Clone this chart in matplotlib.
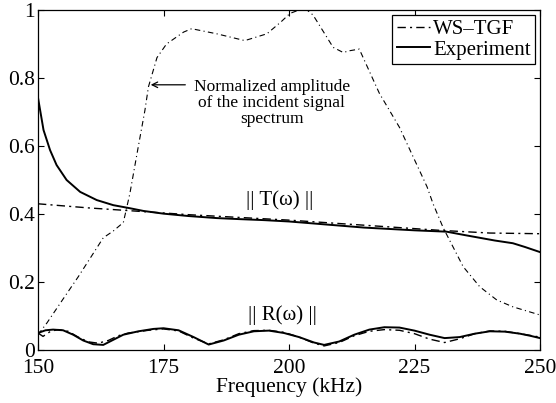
import matplotlib
matplotlib.use('Agg')
import matplotlib.pyplot as plt

plt.rcParams['font.family'] = ['Liberation Serif', 'DejaVu Serif']

# normalized amplitude of the incident signal spectrum
spec_f = [150, 151.8, 155, 158, 161.7, 163, 165, 167, 168.3, 170, 171.3, 172, 173.7,
          175.6, 179, 180.6, 185.6, 191.2, 195.6, 198.4, 200.2, 202, 203.6, 204.8,
          208.8, 210.8, 212, 214, 218, 222, 227.5, 228.7, 230.7, 234.7, 238, 241.4,
          244.6, 250]
spec_v = [0.045, 0.08, 0.15, 0.215, 0.30, 0.33, 0.35, 0.375, 0.46, 0.6, 0.705, 0.774, 0.86,
          0.90, 0.935, 0.945, 0.93, 0.91, 0.93, 0.965, 0.99, 1.0, 1.0, 0.985,
          0.89, 0.875, 0.88, 0.885, 0.755, 0.655, 0.48, 0.43, 0.36, 0.245, 0.186, 0.147,
          0.127, 0.103]

# |T| experiment
t_exp_f = [150, 151.1, 152.4, 153.7, 155.7, 158.4, 161.7, 165, 168.3, 171, 175, 180, 185.6,
           190, 195, 200, 205, 210, 215, 220, 225, 231.4, 235, 238, 241, 244.6, 247, 250]
t_exp_v = [0.742, 0.647, 0.588, 0.544, 0.50, 0.465, 0.441, 0.426, 0.417, 0.409, 0.401,
           0.394, 0.388, 0.385, 0.382, 0.378, 0.372, 0.366, 0.36, 0.356, 0.352, 0.348,
           0.338, 0.33, 0.322, 0.314, 0.303, 0.288]

# |T| WS-TGF
t_ws_f = [150, 160, 170, 180, 190, 200, 210, 220, 230, 240, 250]
t_ws_v = [0.43, 0.418, 0.408, 0.398, 0.39, 0.382, 0.372, 0.362, 0.352, 0.344, 0.342]

# |R| experiment
r_exp_f = [150, 151.5, 153, 155, 157, 159, 161, 163, 165, 167, 170, 173, 175, 178, 181, 184,
           187, 190, 193, 196, 199, 202, 205, 207, 210, 213, 216, 219, 222, 225, 228, 231,
           234, 237, 240, 243, 246, 248, 250]
r_exp_v = [0.05, 0.058, 0.06, 0.058, 0.045, 0.028, 0.017, 0.015, 0.03, 0.045, 0.055, 0.062,
           0.064, 0.058, 0.038, 0.016, 0.028, 0.045, 0.055, 0.057, 0.05, 0.038, 0.022, 0.015,
           0.025, 0.045, 0.06, 0.067, 0.066, 0.057, 0.045, 0.035, 0.038, 0.048, 0.055,
           0.054, 0.048, 0.042, 0.035]

# |R| WS-TGF
r_ws_f = [150, 151, 152.5, 154, 156, 158, 160, 162, 164, 166, 168, 172, 175, 178, 181, 184,
          187, 190, 193, 196, 199, 202, 205, 207, 210, 213, 216, 219, 222, 225, 228, 231,
          234, 237, 240, 243, 246, 250]
r_ws_v = [0.05, 0.04, 0.055, 0.06, 0.055, 0.038, 0.024, 0.02, 0.028, 0.042, 0.05, 0.058,
          0.062, 0.056, 0.035, 0.018, 0.03, 0.048, 0.057, 0.058, 0.052, 0.038, 0.02, 0.012,
          0.022, 0.042, 0.055, 0.06, 0.058, 0.048, 0.032, 0.022, 0.033, 0.048, 0.056,
          0.055, 0.048, 0.038]

x_ticks = [150, 175, 200, 225, 250]
y_ticks = [0, 0.2, 0.4, 0.6, 0.8, 1]
y_tick_labels = ['0', '0.2', '0.4', '0.6', '0.8', '1']

fig = plt.figure(figsize=(5.56, 4.03), dpi=100)
ax = fig.add_axes([38/556, 53/403, 502/556, 340/403])

ax.plot(spec_f, spec_v, color='black', lw=0.8, dashes=(5, 3, 1, 3))
ax.plot(t_ws_f, t_ws_v, color='black', lw=1.0, dashes=(6, 3, 1.5, 3), label='WS\u2013TGF')
ax.plot(t_exp_f, t_exp_v, color='black', lw=1.4, label='Experiment')
ax.plot(r_ws_f, r_ws_v, color='black', lw=1.0, dashes=(6, 3, 1.5, 3))
ax.plot(r_exp_f, r_exp_v, color='black', lw=1.4)

ax.set_xlim(150, 250)
ax.set_ylim(0, 1)
ax.set_xticks(x_ticks)
ax.set_yticks(y_ticks)
ax.set_yticklabels(y_tick_labels)
ax.tick_params(direction='in', top=True, right=True, labelsize=15.5, length=4, pad=2)
ax.tick_params(axis='x', pad=6.5)
for s in ax.spines.values():
    s.set_linewidth(0.9)
ax.set_xlabel('Frequency (kHz)', fontsize=15.5, labelpad=-0.5)

ax.text(196.6, 0.726, 'Normalized amplitude\nof the incident signal\nspectrum',
        ha='center', va='center', multialignment='center', fontsize=12.5, linespacing=1.0)
ax.annotate('', xy=(171.9, 0.78), xytext=(179.9, 0.78),
            arrowprops=dict(arrowstyle='->', color='black', lw=0.9))
ax.text(198.1, 0.441, '|| T(\u03c9) ||', ha='center', va='center', fontsize=15)
ax.text(198.7, 0.103, '|| R(\u03c9) ||', ha='center', va='center', fontsize=15)

leg = ax.legend(loc='upper right', fontsize=15, fancybox=False, framealpha=1,
                edgecolor='black', borderaxespad=0.25, handlelength=1.6,
                handletextpad=0.15, labelspacing=0.05, borderpad=0.2)
leg.get_frame().set_linewidth(0.9)

fig.savefig('out.png', dpi=100)
